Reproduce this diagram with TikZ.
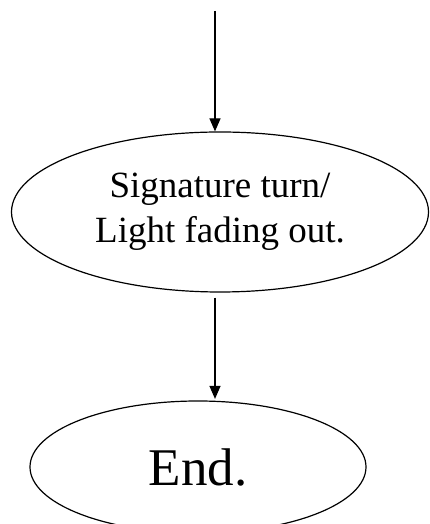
\documentclass[tikz,border=0pt]{standalone}
\usepackage{fontspec}
\setmainfont{Liberation Serif}
\usetikzlibrary{positioning}
\usetikzlibrary{arrows.meta,shapes}
\tikzstyle{oval} = [draw,ellipse,line width=1.2pt,inner sep=0pt]
\tikzstyle{flow} = [draw,line width=1.2pt,->]

\begin{document}
\begin{tikzpicture}[x=1pt,y=1pt,>={Triangle[length=13pt,width=11pt]}]
  \useasboundingbox (0,0) rectangle (429,524);
  \coordinate (top) at (215,513);
  \node[oval, minimum width=417pt, minimum height=160pt, align=center,
        font=\fontsize{37}{45}\selectfont] (turn) at (220,312)
        {Signature turn/\\Light fading out.};
  \node[oval, minimum width=336pt, minimum height=132pt,
        font=\fontsize{53}{60}\selectfont] (done) at (198,57) {End.};
  \path[flow] (top) -- (top |- turn.north);
  \path[flow, shorten <=5pt, shorten >=1.5pt] (top |- turn.south) -- (top |- done.north);
\end{tikzpicture}
\end{document}
